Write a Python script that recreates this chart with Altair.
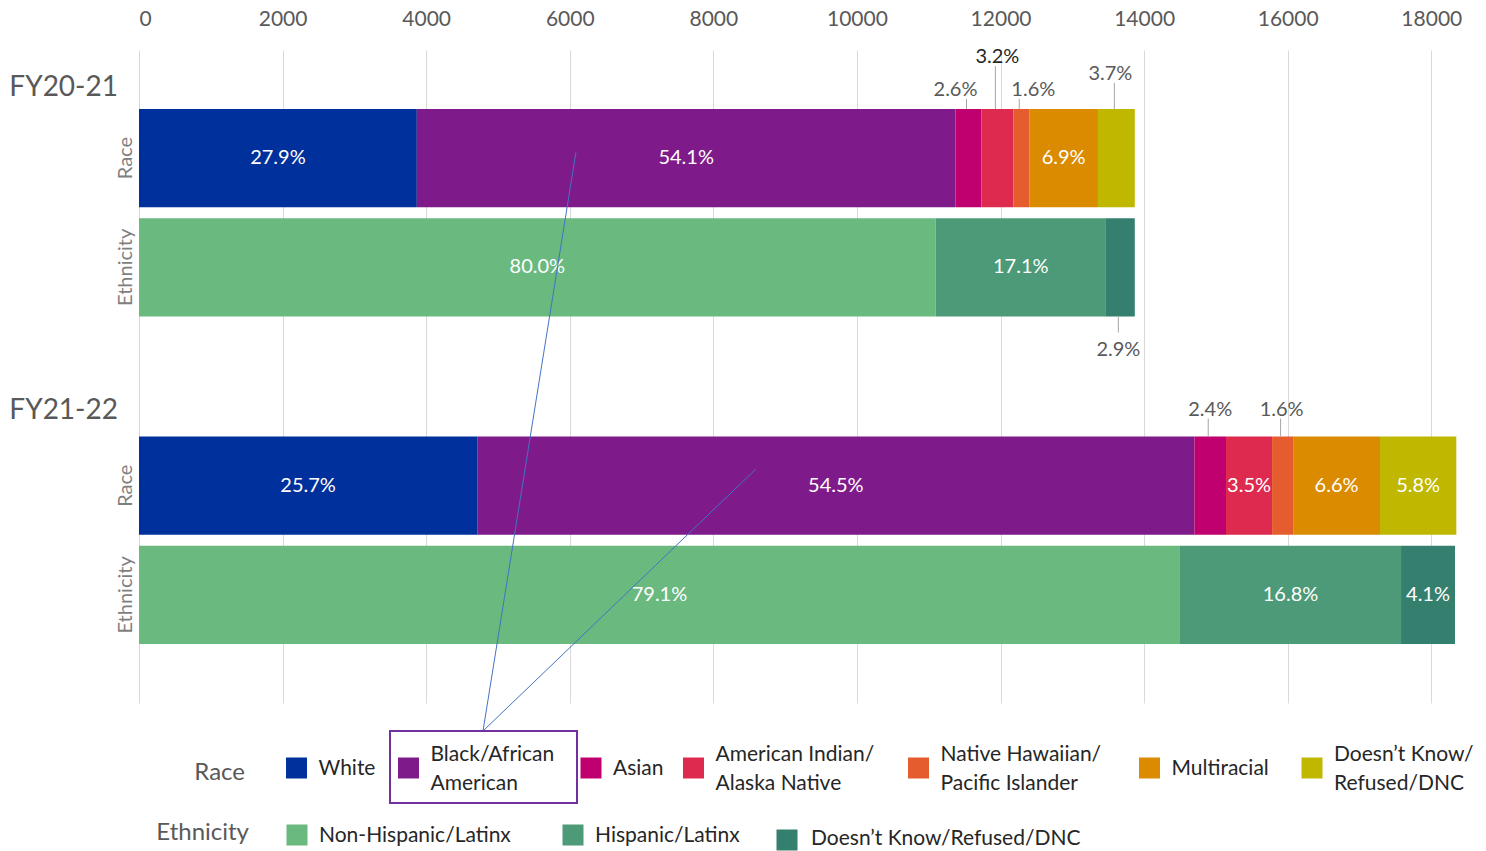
import altair as alt
import pandas as pd

# ---------------- data ----------------
periods = ["FY20-21", "FY21-22"]
period_totals = [13870, 18330]

race_categories = ["White", "Black/African American", "Asian",
                   "American Indian/Alaska Native", "Native Hawaiian/Pacific Islander",
                   "Multiracial", "Doesn\u2019t Know/Refused/DNC"]
race_pct_fy2021 = [27.9, 54.1, 2.6, 3.2, 1.6, 6.9, 3.7]
race_pct_fy2122 = [25.7, 54.5, 2.4, 3.5, 1.6, 6.6, 5.8]

eth_categories = ["Non-Hispanic/Latinx", "Hispanic/Latinx", "Doesn\u2019t Know/Refused/DNC"]
eth_pct_fy2021 = [80.0, 17.1, 2.9]
eth_pct_fy2122 = [79.1, 16.8, 4.1]

x_ticks = [0, 2000, 4000, 6000, 8000, 10000, 12000, 14000, 16000, 18000]

# ---------------- styles ----------------
race_colors = ["#00309B", "#7F1A8A", "#C0006F", "#DE2A4E", "#E55D2E", "#DA8B00", "#BFB700"]
eth_colors = ["#6AB97F", "#4C9A77", "#357F6F"]
FONT = "Lato"
GRAY = "#595959"

rows = []
for period, total, rp, ep in zip(periods, period_totals,
                                 [race_pct_fy2021, race_pct_fy2122],
                                 [eth_pct_fy2021, eth_pct_fy2122]):
    for dim, cats, pcts in [("Race", race_categories, rp), ("Ethnicity", eth_categories, ep)]:
        start = 0.0
        for cat, p in zip(cats, pcts):
            cnt = p / 100.0 * total
            rows.append(dict(period=period, dim=dim, category=cat, key=f"{dim}:{cat}",
                             row=f"{period}|{dim}", pct=p, label=f"{p:.1f}%",
                             start=start, end=start + cnt, mid=start + cnt / 2))
            start += cnt
df = pd.DataFrame(rows)

row_domain = ["FY20-21|Race", "FY20-21|Ethnicity", "gap", "FY21-22|Race", "FY21-22|Ethnicity"]
yscale = alt.Scale(type="band", domain=row_domain, paddingInner=0.1, paddingOuter=0.54)
xscale = alt.Scale(domain=[0, 18330], nice=False, zero=True)

color_domain = [f"Race:{c}" for c in race_categories] + [f"Ethnicity:{c}" for c in eth_categories]
color_scale = alt.Scale(domain=color_domain, range=race_colors + eth_colors)

W, H = 1316, 653

# callouts for small segments: (period, dim, category) -> (direction, leader length, label dx, color)
callouts = {
    ("FY20-21", "Race", "Asian"): ("up", 10, -11, GRAY),
    ("FY20-21", "Race", "American Indian/Alaska Native"): ("up", 43, 2, "#262626"),
    ("FY20-21", "Race", "Native Hawaiian/Pacific Islander"): ("up", 10, 14, GRAY),
    ("FY20-21", "Race", "Doesn\u2019t Know/Refused/DNC"): ("up", 26, -4, GRAY),
    ("FY20-21", "Ethnicity", "Doesn\u2019t Know/Refused/DNC"): ("down", 16, 0, GRAY),
    ("FY21-22", "Race", "Asian"): ("up", 18, 2, GRAY),
    ("FY21-22", "Race", "Native Hawaiian/Pacific Islander"): ("up", 18, 1, GRAY),
}
df["inside"] = [(r.period, r.dim, r.category) not in callouts for r in df.itertuples()]

base = alt.Chart(df)

bars = base.mark_bar().encode(
    x=alt.X("start:Q", scale=xscale,
            axis=alt.Axis(orient="top", values=x_ticks, format="d", title=None, domain=False, ticks=False,
                          labelFontSize=21, labelColor=GRAY, labelFont=FONT, labelPadding=21,
                          grid=True, gridColor="#D9D9D9", gridWidth=1)),
    x2="end:Q",
    y=alt.Y("row:N", scale=yscale, sort=row_domain,
            axis=alt.Axis(title=None, domain=False, ticks=False, grid=False,
                          labelAngle=270, labelAlign="center", labelBaseline="bottom",
                          labelPadding=4, labelFontSize=20, labelColor="#7F7F7F", labelFont=FONT,
                          labelExpr="indexof(datum.value, '|') > 0 ? split(datum.value, '|')[1] : ''")),
    color=alt.Color("key:N", scale=color_scale, legend=None),
)

inside_labels = base.transform_filter("datum.inside").mark_text(
    color="white", fontSize=20, font=FONT, baseline="middle", align="center"
).encode(
    x=alt.X("mid:Q", scale=xscale),
    y=alt.Y("row:N", scale=yscale, sort=row_domain),
    text="label:N",
)

layers = [bars, inside_labels]

for (period, dim, cat), (direction, length, dx, col) in callouts.items():
    sub = df[(df.period == period) & (df.dim == dim) & (df.category == cat)]
    bp = 0 if direction == "up" else 1
    sign = -1 if direction == "up" else 1
    c = alt.Chart(sub)
    leader = c.mark_rule(color="#A6A6A6", strokeWidth=1, xOffset=-2, y2Offset=sign * length).encode(
        x=alt.X("mid:Q", scale=xscale),
        y=alt.Y("row:N", scale=yscale, sort=row_domain, bandPosition=bp),
        y2=alt.Y2("row:N", bandPosition=bp),
    )
    if direction == "up":
        txt = c.mark_text(fontSize=20, font=FONT, color=col, align="center",
                          baseline="alphabetic", dx=dx - 2, dy=-(length + 3))
    else:
        txt = c.mark_text(fontSize=20, font=FONT, color=col, align="center",
                          baseline="top", dx=dx - 2, dy=length + 8)
    txt = txt.encode(
        x=alt.X("mid:Q", scale=xscale),
        y=alt.Y("row:N", scale=yscale, sort=row_domain, bandPosition=bp),
        text="label:N",
    )
    layers += [leader, txt]

# period group labels
for period, dy in zip(periods, [-21, -26]):
    lab = alt.Chart(pd.DataFrame({"row": [f"{period}|Race"], "period": [period]})).mark_text(
        fontSize=28, font=FONT, color=GRAY, align="right", baseline="middle", dy=dy
    ).encode(
        x=alt.value(-21),
        y=alt.Y("row:N", scale=yscale, sort=row_domain, bandPosition=0),
        text="period:N",
    )
    layers.append(lab)

# pointer lines from legend box to the Black/African American segments
pointer_targets = pd.DataFrame({"row": ["FY20-21|Race", "FY21-22|Race"], "target": [6086, 8593]})
for i, frac in enumerate([0.44, 0.33]):
    pl = alt.Chart(pointer_targets.iloc[[i]]).mark_rule(color="#4472C4", strokeWidth=1).encode(
        x=alt.X("target:Q", scale=xscale),
        x2=alt.value(344),
        y=alt.Y("row:N", scale=yscale, sort=row_domain, bandPosition=frac),
        y2=alt.value(681),
    )
    layers.append(pl)

# ---------------- custom legend (layout in plot pixel coordinates) ----------------
race_legend_labels = [["White"], ["Black/African", "American"], ["Asian"],
                      ["American Indian/", "Alaska Native"], ["Native Hawaiian/", "Pacific Islander"],
                      ["Multiracial"], ["Doesn\u2019t Know/", "Refused/DNC"]]
eth_legend_labels = [["Non-Hispanic/Latinx"], ["Hispanic/Latinx"], ["Doesn\u2019t Know/Refused/DNC"]]
race_sw_x = [157.5, 269.5, 452, 554.5, 779.5, 1010.5, 1173]
eth_sw_x = [158, 434, 648]
eth_sw_y = [785, 785, 790]
LINE_H = 29

race_ly = [719 - (len(t) - 1) * LINE_H / 2 for t in race_legend_labels]
sw = pd.DataFrame({
    "sx": race_sw_x + eth_sw_x,
    "sy": [718] * 7 + eth_sw_y,
    "col": race_colors + eth_colors,
    "lx": [x + 22 for x in race_sw_x] + [eth_sw_x[0] + 22, eth_sw_x[1] + 22, eth_sw_x[2] + 24],
    "ly": race_ly + [786, 786, 789],
    "txt": race_legend_labels + eth_legend_labels,
})
swatches = alt.Chart(sw).mark_square(size=441, opacity=1, filled=True).encode(
    x=alt.X("sx:Q", scale=None), y=alt.Y("sy:Q", scale=None),
    color=alt.Color("col:N", scale=None),
)
legend_text = alt.Chart(sw).mark_text(
    fontSize=21, font=FONT, color="#262626", align="left", baseline="middle", lineHeight=LINE_H
).encode(
    x=alt.X("lx:Q", scale=None), y=alt.Y("ly:Q", scale=None), text="txt:N",
)
headers = alt.Chart(pd.DataFrame({"h": ["Race", "Ethnicity"], "hx": [106, 110], "hy": [723, 783]})).mark_text(
    fontSize=24, font=FONT, color=GRAY, align="right", baseline="middle"
).encode(x=alt.X("hx:Q", scale=None), y=alt.Y("hy:Q", scale=None), text="h:N")

box = alt.Chart(pd.DataFrame({"a": [0]})).mark_rect(
    fillOpacity=0, stroke="#7030A0", strokeWidth=2
).encode(x=alt.value(251), x2=alt.value(438), y=alt.value(681), y2=alt.value(753))

layers += [box, swatches, legend_text, headers]

chart = alt.layer(*layers).resolve_scale(color="independent").properties(
    width=W, height=H,
    autosize=alt.AutoSizeParams(type="none"),
    padding={"left": 139, "top": 50, "right": 31, "bottom": 148},
).configure(font=FONT).configure_view(strokeWidth=0, stroke="transparent")

chart.save("out.html", embed_options={"renderer": "svg", "actions": False})
